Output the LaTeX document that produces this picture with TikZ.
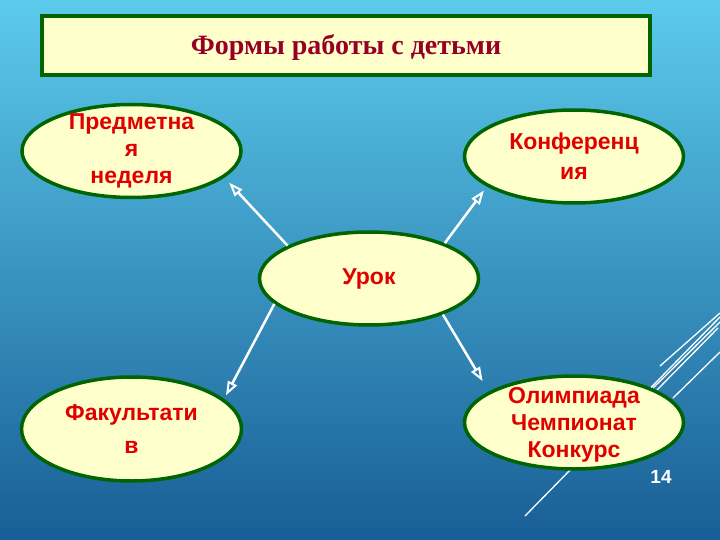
\documentclass[tikz,border=0pt]{standalone}
\usepackage{fontspec}
\setmainfont{Liberation Serif}
\setsansfont{Liberation Sans}
\usepackage{tikz}
\usetikzlibrary{shapes.geometric, arrows.meta}

\definecolor{skytop}{RGB}{92,203,235}
\definecolor{skymid}{RGB}{50,150,202}
\definecolor{skybot}{RGB}{24,94,150}
\definecolor{cream}{RGB}{255,255,204}
\definecolor{leafgreen}{RGB}{0,100,0}
\definecolor{titlered}{RGB}{150,0,40}
\definecolor{formred}{RGB}{224,0,0}

\tikzset{
  form/.style={ellipse, draw=leafgreen, line width=3.5pt, fill=cream,
    minimum width=219pt, minimum height=93pt, inner sep=0pt},
  formtext/.style={text=formred, align=center,
    font=\sffamily\bfseries\fontsize{23}{27}\selectfont},
  link/.style={draw=white, line width=2.5pt,
    -{Triangle[open, length=14pt, width=10pt, line width=2pt]}},
  glint/.style={draw=white, line width=1.3pt, line cap=round}
}

\begin{document}
\begin{tikzpicture}[x=1pt, y=-1pt]
    % Draw the background
    \shade[top color=skytop, middle color=skymid, bottom color=skybot] (0,0) rectangle (720,540);
    \useasboundingbox (0,0) rectangle (720,540);

    % Draw the glints
    \draw[glint] (525,516) -- (720,317);
    \draw[glint] (660,366) -- (720,313);
    \draw[glint] (653,388) -- (720,322);
    \draw[glint] (657,390) -- (718,328);
    \draw[glint] (673,398) -- (720,352);

    % Draw the title
    \node[draw=leafgreen, line width=4pt, fill=cream, minimum width=608pt, minimum height=59pt,
      text=titlered, font=\bfseries\fontsize{28}{32}\selectfont, text depth=3pt] (title) at (346,45.5)
      {Формы работы с детьми};

    % Draw the forms
    \node[form, label={[formtext]center:Урок}] (urok) at (369,278.5) {};
    \node[form, label={[formtext]center:Предметна\\я\\неделя}] (pred) at (131.5,151) {};
    \node[form, label={[formtext]center:Конференц\\[3pt]ия}] (konf) at (574,156.5) {};
    \node[form, minimum width=220pt, minimum height=104pt,
      label={[formtext]center:Факультати\\[6pt]в}] (fakult) at (131.5,429) {};
    \node[form, label={[formtext, yshift=-2pt]center:Олимпиада\\Чемпионат\\Конкурс}] (olimp) at (574,422.5) {};

    % Draw the links
    \draw[link, shorten >=7pt] (urok.158) -- (pred.-16);
    \draw[link, shorten >=5pt] (urok.25) -- (konf.199);
    \draw[link, shorten >=4pt] (urok.195) -- (fakult.18);
    \draw[link, shorten >=12pt] (urok.-26) -- (olimp.160);

    % Draw the page number
    \node[text=white, font=\sffamily\bfseries\fontsize{19}{23}\selectfont] (pagenum) at (661,477) {14};
\end{tikzpicture}
\end{document}
